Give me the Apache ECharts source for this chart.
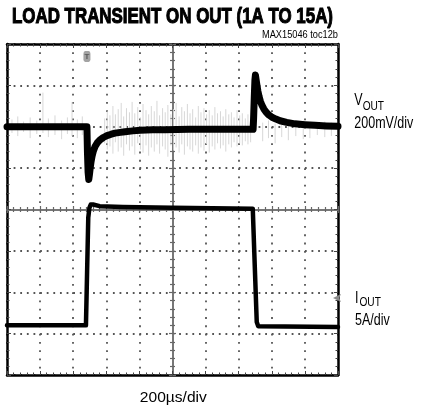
<!DOCTYPE html>
<html><head><meta charset="utf-8">
<script src="https://cdn.jsdelivr.net/npm/echarts@6/dist/echarts.min.js"></script>
<style>html,body{margin:0;padding:0;background:#fff}#c{width:427px;height:412px}</style>
</head><body><div id="c"></div>
<script>
// ---------- texts ----------
const titleText = 'LOAD TRANSIENT ON OUT (1A TO 15A)';
const tocText = 'MAX15046 toc12b';
const xScaleText = '200µs/div';
const voutName = ['V', 'OUT'];
const voutScaleText = '200mV/div';
const ioutName = ['I', 'OUT'];
const ioutScaleText = '5A/div';

// ---------- axis scales (time in µs, VOUT deviation in mV, IOUT in A) ----------
const timeRange = [0, 2000, 200];      // 200µs/div
const voutRange = [-1200, 400, 200];   // 200mV/div, AC-coupled deviation
const ioutRange = [-5, 35, 5];         // 5A/div

// ---------- VOUT trace ----------
const voutTime = [0, 483, 486, 490, 494, 498, 503, 508, 514, 522, 532, 545, 562, 582, 604, 630, 653, 685, 713, 760, 804, 880, 955, 1100, 1487,
  1490, 1494, 1498, 1501, 1505, 1510, 1516, 1523, 1531, 1541, 1552, 1565, 1582, 1601, 1625, 1650, 1690, 1740, 1800, 1861, 1930, 2000];
const voutMv = [0, 0, -120, -220, -255, -232, -198, -168, -142, -117, -96, -78, -63, -52, -43, -36, -31, -27, -24, -20, -17, -15, -14, -12, -12,
  40, 140, 225, 250, 228, 202, 172, 146, 123, 103, 86, 71, 57, 46, 37, 29, 21, 14, 10, 7, 4, 2];

// ---------- IOUT trace ----------
const ioutTime = [0, 477, 484, 491, 498, 506, 520, 560, 700, 1000, 1485, 1497, 1509, 1518, 1530, 2000];
const ioutAmp  = [1.0, 1.0, 7.5, 14.0, 15.2, 15.6, 15.6, 15.4, 15.3, 15.2, 15.1, 8.2, 1.4, 0.9, 0.8, 0.8];

// ---------- VOUT noise spikes (grey) ----------
const noiseTime = [30,65,100,140,180,217,250,290,330,365,393,425,455,
  590,606,622,640,655,672,690,705,722,740,756,772,790,806,822,840,856,872,890,906,922,940,956,972,990,1006,1022,1040,1056,1072,
  1090,1106,1122,1140,1156,1172,1190,1206,1222,1240,1256,1272,1290,1306,1322,1340,1356,1372,1390,1406,1422,1440,1456,1472,
  1545,1580,1620,1660,1700,1745,1790,1830,1875,1920,1960];
const noiseHigh = [35,50,25,45,30,165,40,55,30,45,120,35,50,
  40,75,55,100,60,85,115,50,90,70,120,65,95,45,110,80,60,100,75,125,55,90,70,105,60,85,115,50,95,75,
  110,65,85,45,100,70,90,60,80,55,95,65,75,50,85,60,70,45,80,55,65,40,60,45,
  20,30,15,25,20,15,30,20,15,25,20];
const noiseLow = [-30,-45,-25,-55,-35,-30,-50,-40,-60,-35,-45,-55,-40,
  -80,-110,-95,-130,-75,-120,-100,-140,-85,-115,-95,-135,-80,-110,-125,-90,-140,-100,-120,-85,-130,-95,-110,-145,-90,-115,-100,-125,-85,-135,
  -95,-110,-120,-90,-130,-100,-115,-85,-125,-95,-110,-80,-105,-90,-120,-85,-100,-75,-95,-80,-90,-70,-85,-75,
  -70,-55,-80,-50,-65,-45,-60,-55,-40,-50,-45];

// ---------- scope markers ----------
const triggerMark = [483, 340];   // [µs, mV]
const levelMark = [1970, 4.3];    // [µs, A]

// ================= build =================
const G = {left: 7, top: 44, width: 331, height: 331};
const zip = (a, b) => a.map((v, i) => [v, b[i]]);
const nN = Math.min(noiseTime.length, noiseHigh.length, noiseLow.length);
const noiseData = [];
for (let i = 0; i < nN; i++) noiseData.push([noiseTime[i], noiseHigh[i], noiseLow[i]]);

const ctx = document.createElement('canvas').getContext('2d');
function measure(str, font) { ctx.font = font; return ctx.measureText(str).width; }
function txt(str, font, x, y, sx, align, stroke) {
  const style = {text: str, font: font, fill: '#000', textAlign: align || 'left', textVerticalAlign: 'middle'};
  if (stroke) { style.stroke = '#000'; style.lineWidth = stroke; }
  return {type: 'text', x: x, y: y, scaleX: sx, silent: true, style: style};
}
const NARROW = '"Liberation Sans Narrow", "Liberation Sans", Arial, sans-serif';
const titleFont = 'bold 22px ' + NARROW;
const sideFont = '16px ' + NARROW;
const subFont = '13px ' + NARROW;
const tocFont = '10px ' + NARROW;
const botFont = '15px ' + NARROW;
const sTitle = 321 / measure(titleText, titleFont);
const sSide = 59 / measure(voutScaleText, sideFont);
const sToc = 76 / measure(tocText, tocFont);
const sBot = 67 / measure(xScaleText, botFont);

const graphics = [
  txt(titleText, titleFont, 12, 16.5, sTitle, 'left', 1.1),
  txt(tocText, tocFont, 338, 35.5, sToc, 'right'),
  txt(voutName[0], sideFont, 354.3, 101, sSide),
  txt(voutName[1], subFont, 354.3 + measure(voutName[0], sideFont) * sSide, 106.5, sSide),
  txt(voutScaleText, sideFont, 354.3, 123.5, sSide),
  txt(ioutName[0], sideFont, 355, 299, sSide),
  txt(ioutName[1], subFont, 355 + measure(ioutName[0], sideFont) * sSide + 1, 302.5, sSide),
  txt(ioutScaleText, sideFont, 355, 320.5, sSide),
  txt(xScaleText, botFont, 173.3, 397.5, sBot, 'center')
];

const dotColor = '#555';
const tickColor = '#444';
const hPeriod = G.width / 50, vPeriod = G.height / 40;
function frameAxis(extra) {
  return Object.assign({
    type: 'value',
    axisLine: {show: true, onZero: false, lineStyle: {color: '#000', width: 2.5}},
    axisTick: {show: true, inside: true, length: 4, lineStyle: {color: tickColor, width: 1}},
    minorTick: {show: true, splitNumber: 5, length: 2.5, lineStyle: {color: tickColor, width: 1}},
    axisLabel: {show: false},
    splitLine: {show: false},
    minorSplitLine: {show: false}
  }, extra);
}
function centerAxis(extra) {
  return Object.assign({
    type: 'value',
    minorTick: {show: true, splitNumber: 5, length: 2.5, lineStyle: {color: '#666', width: 1.2}},
    axisLabel: {show: false},
    splitLine: {show: false}
  }, extra);
}

const option = {
  animation: false,
  backgroundColor: '#fff',
  grid: Object.assign({outerBoundsMode: 'none', containLabel: false}, G),
  graphic: graphics,
  xAxis: [
    frameAxis({min: timeRange[0], max: timeRange[1], interval: timeRange[2], position: 'bottom',
      splitLine: {show: true, lineStyle: {color: dotColor, width: 1.8, type: [1.8, vPeriod - 1.8]}}}),
    frameAxis({min: timeRange[0], max: timeRange[1], interval: timeRange[2], position: 'top'}),
    centerAxis({min: -5, max: 5, interval: 1, position: 'bottom',
      axisLine: {show: true, onZero: true, onZeroAxisIndex: 2, lineStyle: {color: '#777', width: 2}},
      axisTick: {show: true, inside: false, length: 3.5, lineStyle: {color: '#666', width: 1.2}}}),
    centerAxis({min: -5, max: 5, interval: 1, position: 'bottom',
      axisLine: {show: false, onZero: true, onZeroAxisIndex: 2},
      axisTick: {show: true, inside: true, length: 3.5, lineStyle: {color: '#666', width: 1.2}}})
  ],
  yAxis: [
    frameAxis({min: voutRange[0], max: voutRange[1], interval: voutRange[2], position: 'left',
      splitLine: {show: true, lineStyle: {color: dotColor, width: 1.8, type: [1.8, hPeriod - 1.8]}}}),
    frameAxis({min: ioutRange[0], max: ioutRange[1], interval: ioutRange[2], position: 'right'}),
    centerAxis({min: -4, max: 4, interval: 1, position: 'left',
      axisLine: {show: true, onZero: true, onZeroAxisIndex: 2, lineStyle: {color: '#777', width: 2}},
      axisTick: {show: true, inside: false, length: 3.5, lineStyle: {color: '#666', width: 1.2}}}),
    centerAxis({min: -4, max: 4, interval: 1, position: 'left',
      axisLine: {show: false, onZero: true, onZeroAxisIndex: 2},
      axisTick: {show: true, inside: true, length: 3.5, lineStyle: {color: '#666', width: 1.2}}})
  ],
  series: [
    {
      name: 'noise', type: 'custom', xAxisIndex: 0, yAxisIndex: 0, z: 3, silent: true,
      data: noiseData,
      encode: {x: 0, y: [1, 2]},
      renderItem: function (params, api) {
        const p1 = api.coord([api.value(0), api.value(1)]);
        const p2 = api.coord([api.value(0), api.value(2)]);
        return {type: 'line', shape: {x1: p1[0], y1: p1[1], x2: p2[0], y2: p2[1]},
          style: {stroke: '#d2d2d2', lineWidth: 0.9}};
      }
    },
    {
      name: 'VOUT', type: 'line', xAxisIndex: 0, yAxisIndex: 0, z: 5,
      data: zip(voutTime, voutMv), showSymbol: false, symbol: 'none',
      lineStyle: {color: '#000', width: 7, join: 'round', cap: 'round'},
      markPoint: {
        symbol: 'roundRect', symbolSize: [7, 11], silent: true,
        itemStyle: {color: '#a3a3a3'},
        label: {show: true, formatter: 'T', color: '#5a5a5a', fontSize: 8, fontWeight: 'bold'},
        data: [{coord: triggerMark}]
      }
    },
    {
      name: 'IOUT', type: 'line', xAxisIndex: 0, yAxisIndex: 1, z: 5,
      data: zip(ioutTime, ioutAmp), showSymbol: false, symbol: 'none',
      lineStyle: {color: '#000', width: 4.5, join: 'round', cap: 'round'},
      markPoint: {
        symbol: 'arrow', symbolSize: [6, 8], symbolRotate: 90, silent: true,
        itemStyle: {color: '#8a8a8a'}, label: {show: false},
        data: [{coord: levelMark}]
      }
    }
  ]
};
const chart = echarts.init(document.getElementById('c'), null, {renderer: 'canvas', devicePixelRatio: 1});
chart.setOption(option);
</script></body></html>
